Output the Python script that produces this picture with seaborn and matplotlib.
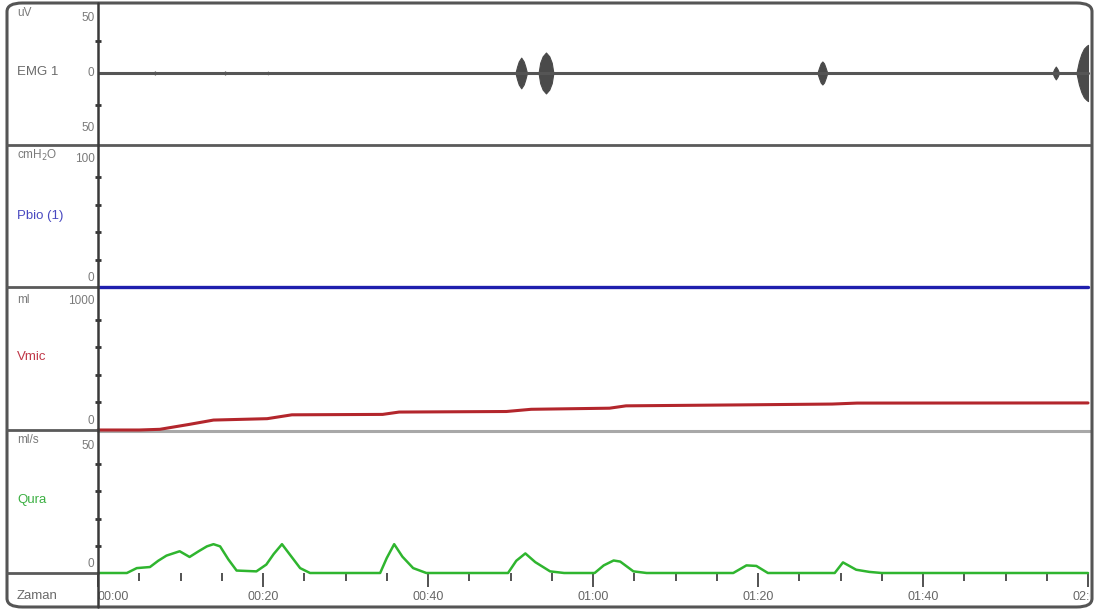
import numpy as np
import pandas as pd
import matplotlib
matplotlib.use("Agg")
import matplotlib.pyplot as plt
from matplotlib.patches import FancyBboxPatch
from matplotlib.lines import Line2D
import seaborn as sns

sns.set_theme(style="white")
plt.rcParams["font.family"] = ["Liberation Sans Narrow", "Liberation Sans", "DejaVu Sans"]

# ---------------- data ----------------
# EMG burst envelope (s, µV)
emg_t = [0, 6.7, 6.9, 7.1, 15.2, 15.4, 15.6, 20.4, 20.6, 20.8,
         50.6, 50.8, 51.0, 51.3, 51.6, 51.8, 52.0,
         53.4, 53.6, 53.9, 54.3, 54.7, 55.0, 55.2,
         87.2, 87.4, 87.6, 87.8, 88.0, 88.2, 88.4,
         115.7, 115.9, 116.1, 116.3, 116.5,
         118.6, 118.9, 119.2, 119.5, 119.8, 120.0]
emg_env = [0, 0, 1.2, 0, 0, 1.2, 0, 0, 1.0, 0,
           0, 5, 9, 12, 9, 5, 0,
           0, 8, 13, 16, 13, 8, 0,
           0, 4, 7.5, 9, 7.5, 4, 0,
           0, 3, 5, 3, 0,
           0, 9, 15, 19, 21, 22]

# bladder pressure Pbio (cmH2O)
pbio_t = [0, 120]
pbio_v = [0, 0]

# voided volume Vmic (ml)
vmic_t = [0, 5, 7.5, 11, 14, 20.5, 23.5, 34.5, 36.5, 49.5, 52.5,
          62, 64, 78, 89, 92, 120]
vmic_v = [0, 0, 5, 40, 72, 82, 110, 113, 130, 134, 150,
          158, 175, 182, 188, 195, 196]

# flow rate Qura (ml/s)
qura_t = [0, 3.5, 4.7, 6.3, 7.3, 8.3, 9.9, 11.1, 12.2, 13.2, 14.0, 14.8, 15.8, 16.8,
          19.2, 20.4, 21.3, 22.3, 23.2, 24.5, 25.7,
          34.2, 35.0, 35.9, 36.9, 38.2, 39.8,
          49.7, 50.7, 51.8, 53.0, 54.8, 56.5,
          60.2, 61.3, 62.5, 63.3, 64.9, 66.5,
          77.0, 78.6, 79.8, 81.2,
          89.3, 90.3, 91.9, 93.5, 95.0, 120]
qura_v = [0, 0, 1.8, 2.2, 4.5, 6.4, 8.0, 5.9, 8.0, 9.8, 10.6, 9.8, 5.0, 0.9,
          0.6, 3.1, 7.0, 10.6, 7.0, 1.8, 0,
          0, 5.5, 10.6, 6.0, 1.8, 0,
          0, 4.5, 7.2, 4.0, 0.6, 0,
          0, 2.8, 4.6, 4.2, 0.6, 0,
          0, 2.8, 2.6, 0,
          0, 3.9, 1.2, 0.4, 0, 0]

time_ticks = [0, 20, 40, 60, 80, 100, 120]
time_labels = ["00:00", "00:20", "00:40", "01:00", "01:20", "01:40", "02:00"]

channels = ["EMG 1", "Pbio (1)", "Vmic", "Qura"]
units = ["uV", "cmH$_2$O", "ml", "ml/s"]
name_colors = ["#6a6a6a", "#4848c0", "#c03848", "#3cb043"]

# ---------------- layout (pixels) ----------------
W, H = 1099, 615
X0, X1 = 98, 1090
LEFT, RIGHT, TOP, BOTTOM = 7, 1092, 3, 607
panels = [(3, 145), (145, 287), (287, 430), (430, 573)]
unit_y = [13, 155, 300, 440]
name_y = [72, 216, 357, 500]
ylims = [(-56.3, 54.7), (0, 103.6), (0, 1036), (0, 52.6)]
ytick_lab = [[(50, "50", "top"), (0, "0", "center"), (-50, "50", "bottom")],
             [(100, "100", "top"), (0, "0", "bottom")],
             [(1000, "1000", "top"), (0, "0", "bottom")],
             [(50, "50", "top"), (0, "0", "bottom")]]
yminor = [[-25, 25], [20, 40, 60, 80], [200, 400, 600, 800], [10, 20, 30, 40]]
XMAX = 120 * (X1 - X0) / 990.0


def fx(px):
    return px / W


def fy(py):
    return 1 - py / H


fig = plt.figure(figsize=(W / 100, H / 100), dpi=100)
fig.patch.set_facecolor("white")

# background separators on the plotting side
fig.add_artist(Line2D([fx(X0), fx(X1)], [fy(145), fy(145)], color="#5a5a5a", lw=2,
                      transform=fig.transFigure, zorder=0))
fig.add_artist(Line2D([fx(X0), fx(X1)], [fy(431), fy(431)], color="#a8a8a8", lw=2.2,
                      transform=fig.transFigure, zorder=0))

axes = []
for (top, bot), yl in zip(panels, ylims):
    ax = fig.add_axes([fx(X0), fy(bot), fx(X1) - fx(X0), fy(top) - fy(bot)])
    ax.set_xlim(0, XMAX)
    ax.set_ylim(*yl)
    ax.patch.set_visible(False)
    for s in ax.spines.values():
        s.set_visible(False)
    ax.set_xticks([])
    ax.set_yticks([])
    axes.append(ax)

ax_emg, ax_pb, ax_vm, ax_qu = axes

# EMG trace
emg_env = np.array(emg_env, dtype=float)
ax_emg.fill_between(emg_t, -emg_env, emg_env, color="#4a4a4a", lw=0.8,
                    edgecolor="#4a4a4a")
sns.lineplot(x=[0, 120], y=[0, 0], ax=ax_emg, color="#555555", lw=2.2)

# Pbio
sns.lineplot(x=pbio_t, y=pbio_v, ax=ax_pb, color="#1f1fae", lw=2.4, clip_on=False)

# Vmic
sns.lineplot(x=vmic_t, y=vmic_v, ax=ax_vm, color="#b3262c", lw=2.2, clip_on=False)

# Qura
sns.lineplot(x=qura_t, y=qura_v, ax=ax_qu, color="#2fb52f", lw=1.8, clip_on=False)

for ax in axes:
    ax.set_xlabel("")
    ax.set_ylabel("")

# time ticks under the flow panel
ax_qu.set_xticks(np.arange(0, 121, 5), minor=True)
ax_qu.set_xticks(time_ticks)
ax_qu.set_xticklabels([])
ax_qu.tick_params(axis="x", which="minor", direction="out", length=6, width=1.3,
                  color="#444444", bottom=True)
ax_qu.tick_params(axis="x", which="major", direction="out", length=10, width=1.3,
                  color="#444444", bottom=True)

for ax, minors, labs in zip(axes, yminor, ytick_lab):
    ax.set_yticks(minors, minor=True)
    ax.tick_params(axis="y", which="minor", direction="inout", length=5, width=2,
                   color="#333333", left=True)
    for val, txt, va in labs:
        off = {"top": -2, "center": 0, "bottom": 2}[va]
        ax.annotate(txt, xy=(0, val), xycoords=("axes fraction", "data"),
                    xytext=(-2.5, off), textcoords="offset points",
                    ha="right", va=va, fontsize=8.5, color="#7a7a7a",
                    annotation_clip=False)

# time panel
ax_t = fig.add_axes([fx(X0), fy(BOTTOM), fx(X1) - fx(X0), fy(573) - fy(BOTTOM)])
ax_t.set_xlim(0, XMAX)
ax_t.set_ylim(0, 1)
ax_t.axis("off")
for tv, tl in zip(time_ticks, time_labels):
    ax_t.text(tv, 0.3, tl, ha="left" if tv == 0 else "center", va="center",
              fontsize=9, color="#666666", clip_on=True)

# left column: units and channel names
for uy, ny, unit, name, col in zip(unit_y, name_y, units, channels, name_colors):
    fig.text(fx(17), fy(uy), unit, ha="left", va="center", fontsize=8.5,
             color="#7a7a7a")
    fig.text(fx(17), fy(ny), name, ha="left", va="center", fontsize=9.5, color=col)
fig.text(fx(17), fy(596), "Zaman", ha="left", va="center", fontsize=9.5,
         color="#6a6a6a")

# separators in the label column
for py in [145, 287, 430, 573]:
    fig.add_artist(Line2D([fx(LEFT), fx(X0)], [fy(py), fy(py)], color="#5a5a5a", lw=2,
                          transform=fig.transFigure))

# vertical axis line
fig.add_artist(Line2D([fx(X0), fx(X0)], [fy(TOP), fy(BOTTOM)], color="#3a3a3a",
                      lw=1.8, transform=fig.transFigure))

# rounded outer frame
frame = FancyBboxPatch((fx(LEFT), fy(BOTTOM)), fx(RIGHT) - fx(LEFT),
                       fy(TOP) - fy(BOTTOM),
                       boxstyle="round,pad=0,rounding_size=0.014",
                       transform=fig.transFigure, fill=False,
                       edgecolor="#555555", lw=2.2)
fig.add_artist(frame)

fig.savefig("out.png", dpi=100, facecolor="white")
